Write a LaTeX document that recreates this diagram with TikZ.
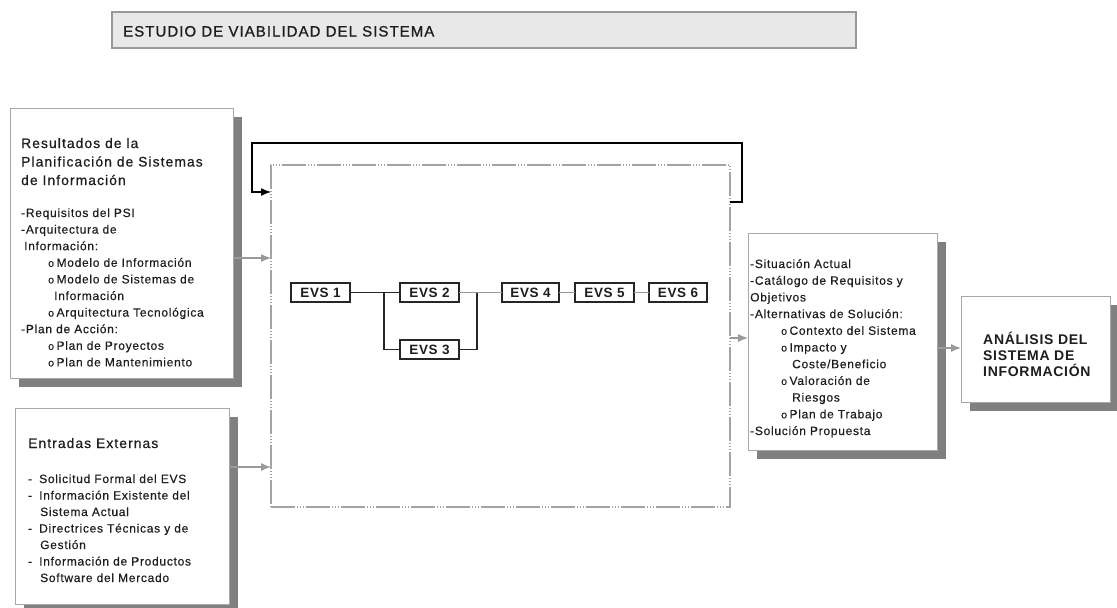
\documentclass[tikz,border=0pt]{standalone}
\usepackage{fontspec}
\newfontfamily\bodyfont[LetterSpace=6,FakeBold=0.35]{Liberation Sans}
\newfontfamily\headfont[LetterSpace=8,FakeBold=0.7]{Liberation Sans}
\newfontfamily\titlefont[LetterSpace=7,FakeBold=1.0]{Liberation Sans}
\newfontfamily\strongfont[LetterSpace=5]{Liberation Sans Bold}
\usetikzlibrary{shadows,arrows.meta}
% small round bullet used in the nested lists
\newcommand\bul{{\fontsize{10.5}{10}\selectfont o}\kern2.5pt}

\definecolor{framegray}{HTML}{A8A8A8}
\definecolor{shadowgray}{HTML}{808080}
\definecolor{titlefill}{HTML}{E8E8E8}
\definecolor{titleframe}{HTML}{999999}
\definecolor{linkgray}{HTML}{9A9A9A}
\definecolor{inkgray}{HTML}{1E1E1E}
\definecolor{dashgray}{HTML}{A4A4A4}

\begin{document}
\begin{tikzpicture}[x=1pt,y=-1pt,
  panel/.style={draw=framegray, line width=1pt, fill=white, inner sep=0pt, outer sep=0pt,
    drop shadow={shadow xshift=9pt, shadow yshift=-9pt, fill=shadowgray, opacity=1}},
  body/.style={anchor=base west, inner sep=0pt, text=inkgray,
    font=\bodyfont\fontsize{12}{14}\selectfont},
  head/.style={anchor=base west, inner sep=0pt, text=inkgray,
    font=\headfont\fontsize{13.8}{16}\selectfont},
  bighead/.style={anchor=base west, inner sep=0pt, text=inkgray,
    font=\strongfont\fontsize{14}{16}\selectfont},
  evsbox/.style={draw=black!85, line width=1.2pt, fill=white, inner sep=0pt, outer sep=0pt,
    minimum height=19pt, text=inkgray, font=\strongfont\fontsize{13.5}{14}\selectfont},
  flow/.style={-{Latex[length=10pt,width=8pt]}, line width=1.2pt, draw=linkgray},
  feed/.style={-{Latex[length=10pt,width=8pt]}, line width=1.3pt, draw=black},
  link/.style={line width=1.2pt, draw=black!85},
  glink/.style={line width=1.4pt, draw=linkgray},
  stagebox/.style={draw=dashgray, line width=1.2pt, inner sep=0pt, outer sep=0pt,
    dash pattern=on 24pt off 2pt on 1pt off 2pt on 1pt off 2pt on 1pt off 2pt}
]
\useasboundingbox (0,0) rectangle (1117,608);

% title bar
\node[draw=titleframe, line width=1.6pt, fill=titlefill, inner sep=0pt,
      minimum width=744pt, minimum height=36pt] (titlebar) at (484,30) {};
\node[anchor=base west, inner sep=0pt, text=inkgray,
      font=\titlefont\fontsize{15}{16}\selectfont] (titletext) at (123,36.5)
      {ESTUDIO DE VIABILIDAD DEL SISTEMA};

% input panels
\node[panel, minimum width=223pt, minimum height=270pt] (psi) at (121.5,243) {};
\node[panel, minimum width=214pt, minimum height=196pt] (ext) at (122,506) {};

% process frame
\node[stagebox, minimum width=459pt, minimum height=342pt] (evs) at (500.5,336) {};

% output panels
\node[panel, minimum width=189pt, minimum height=217pt] (out) at (842.5,341.5) {};
\node[panel, minimum width=149pt, minimum height=106pt] (asi) at (1035.5,349) {};

% panel texts
\foreach \y/\t [count=\n] in {148/Resultados de la, 166.5/Planificación de Sistemas, 185/de Información}
  \node[head] (psih\n) at (21,\y) {\t};
\foreach \y/\x/\t [count=\n] in {
    217/21/-Requisitos del PSI,
    233.6/21/-Arquitectura de,
    250.2/24/Información:,
    266.8/48/\bul Modelo de Información,
    283.4/48/\bul Modelo de Sistemas de,
    300/54/Información,
    316.6/48/\bul Arquitectura Tecnológica,
    333.2/21/-Plan de Acción:,
    349.8/48/\bul Plan de Proyectos,
    366.4/48/\bul Plan de Mantenimiento}
  \node[body] (psil\n) at (\x,\y) {\t};

\node[head] (exth) at (28,448) {Entradas Externas};
\foreach \y/\x/\t [count=\n] in {
    483/28/-\hspace{7pt}Solicitud Formal del EVS,
    499.5/28/-\hspace{7pt}Información Existente del,
    516/40/Sistema Actual,
    532.5/28/-\hspace{7pt}Directrices Técnicas y de,
    549/40/Gestión,
    565.5/28/-\hspace{7pt}Información de Productos,
    582/40/Software del Mercado}
  \node[body] (extl\n) at (\x,\y) {\t};

\foreach \y/\x/\t [count=\n] in {
    268/750/-Situación Actual,
    284.7/750/-Catálogo de Requisitos y,
    301.4/750/Objetivos,
    318.1/750/-Alternativas de Solución:,
    334.8/781/\bul Contexto del Sistema,
    351.5/781/\bul Impacto y,
    368.2/792/{Coste/Beneficio},
    384.9/781/\bul Valoración de,
    401.6/792/Riesgos,
    418.3/781/\bul Plan de Trabajo,
    435/750/-Solución Propuesta}
  \node[body] (outl\n) at (\x,\y) {\t};

\foreach \y/\t [count=\n] in {344/ANÁLISIS DEL, 360/SISTEMA DE, 376/INFORMACIÓN}
  \node[bighead] (asil\n) at (983,\y) {\t};

% activities
\node[evsbox, minimum width=59pt] (e1) at (320.5,292.5) {EVS 1};
\node[evsbox, minimum width=59pt] (e2) at (429.5,292.5) {EVS 2};
\node[evsbox, minimum width=59pt] (e3) at (429.5,349.5) {EVS 3};
\node[evsbox, minimum width=57pt] (e4) at (530.5,292.5) {EVS 4};
\node[evsbox, minimum width=59pt] (e5) at (604.5,292.5) {EVS 5};
\node[evsbox, minimum width=58pt] (e6) at (678,292.5) {EVS 6};

\coordinate (split) at (384,292.5);
\coordinate (merge) at (477,292.5);
\draw[link] (e1.east) -- (split) -- (e2.west);
\draw[link] (split) |- (e3.west);
\draw[link] (e3.east) -| (merge);
\draw[glink] (e2.east) -- (merge) -- (e4.west);
\draw[glink] (e4.east) -- (e5.west);
\draw[glink] (e5.east) -- (e6.west);

% flows between panels
\coordinate (inA) at (0,258);
\coordinate (inB) at (0,467);
\coordinate (outA) at (0,338);
\coordinate (outB) at (0,348);
\draw[flow] (psi.east |- inA) -- (evs.west |- inA);
\draw[flow] (ext.east |- inB) -- (evs.west |- inB);
\draw[flow] (evs.east |- outA) -- (out.west |- outA);
\draw[flow] (out.east |- outB) -- (asi.west |- outB);

% iteration loop over the process frame
\coordinate (loopR) at (742,202);
\coordinate (loopTR) at (742,143);
\coordinate (loopTL) at (252,143);
\coordinate (loopL) at (252,192);
\draw[feed] (evs.east |- loopR) -- (loopR) -- (loopTR) -- (loopTL) -- (loopL) -- (evs.west |- loopL);
\end{tikzpicture}
\end{document}
